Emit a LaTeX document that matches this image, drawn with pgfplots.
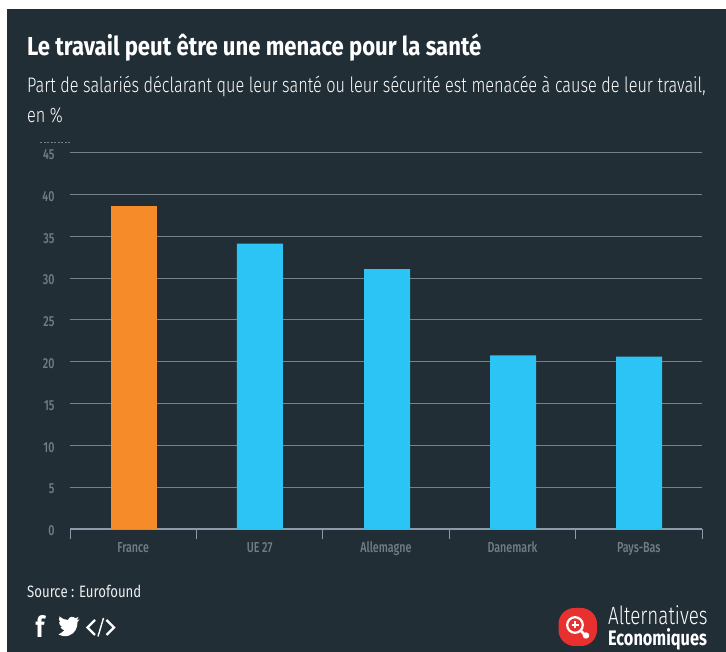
\documentclass[border=0pt]{standalone}
\usepackage{pgfplots}
\pgfplotsset{compat=1.18}
\usepackage{pgfplotstable}
\usepackage{fontspec}
\setmainfont[FakeStretch=0.8]{Fira Sans}
\newfontfamily\titlefont[FakeStretch=0.85]{Fira Sans Bold}
\newfontfamily\subfont[FakeStretch=0.775]{Fira Sans Light}
\newfontfamily\medfont[FakeStretch=0.74]{Fira Sans Medium}
\newfontfamily\logolight[FakeStretch=0.752]{Fira Sans Light}
\newfontfamily\logobold[FakeStretch=0.778]{Fira Sans Bold}
\definecolor{bg}{HTML}{222E36}
\definecolor{gridc}{HTML}{76828A}
\definecolor{axisc}{HTML}{8C9BAA}
\definecolor{labc}{HTML}{737D84}
\definecolor{orangebar}{HTML}{F68B2A}
\definecolor{bluebar}{HTML}{2BC4F5}
\definecolor{logored}{HTML}{E8312F}
\pgfplotstableread{
x v
0.506 38.55
}\franceT
\pgfplotstableread{
x v
1.503 34.1
2.508 31.05
3.505 20.75
4.503 20.6
}\othersT
\begin{document}
\begin{tikzpicture}[x=1pt,y=1pt]
\useasboundingbox (0,0) rectangle (726,652);
\fill[white] (0,0) rectangle (726,652);
\fill[bg] (7,0) rectangle (726,643);
\node[anchor=base west,inner sep=0pt,white,font=\titlefont\fontsize{26}{28}\selectfont] at (27,596) {Le travail peut être une menace pour la santé};
\node[anchor=base west,inner sep=0pt,white,font=\subfont\fontsize{21}{24}\selectfont] at (27,559) {Part de salariés déclarant que leur santé ou leur sécurité est menacée à cause de leur travail,};
\node[anchor=base west,inner sep=0pt,white,font=\subfont\fontsize{21}{24}\selectfont] at (27,529) {en \%};
\draw[gridc,dash pattern=on 2pt off 1.5pt,line width=0.5pt] (40,510) -- (70,510);
\begin{axis}[
  at={(70pt,123pt)}, anchor=origin,
  scale only axis, width=632pt, height=376.5pt,
  xmin=0, xmax=5, ymin=0, ymax=45,
  axis x line=bottom, axis y line=left,
  x axis line style={draw=axisc,line width=1.2pt,-},
  y axis line style={draw=none,-},
  ytick={0,5,...,45},
  ymajorgrids, grid style={gridc,line width=0.9pt},
  ytick style={draw=none},
  major tick length=0pt,
  xtick={0.5,1.5,2.5,3.5,4.5},
  xticklabels={France,UE 27,Allemagne,Danemark,Pays-Bas},
  xtick style={draw=none},
  extra x ticks={0,1,2,3,4,5},
  extra x tick labels={},
  extra x tick style={xtick style={draw=axisc,line width=1pt},major tick length=10pt,tick align=outside,xticklabels={},grid=none},
  /pgf/number format/assume math mode=true,
  ticklabel style={text=labc,font=\medfont\fontsize{14.5}{16}\selectfont},
  x tick label style={yshift=-9.5pt,text height=10pt,text depth=3pt},
  y tick label style={xshift=-12pt,yshift=-2pt},
  axis on top=false,
  clip=false,
]
\addplot[ybar,bar width=46pt,bar shift=0pt,fill=orangebar,draw=none] table[x=x,y=v] {\franceT};
\addplot[ybar,bar width=46pt,bar shift=0pt,fill=bluebar,draw=none] table[x=x,y=v] {\othersT};
\end{axis}
\node[anchor=base west,inner sep=0pt,white!92!bg,font=\fontsize{16.5}{19}\selectfont] at (27,54.5) {Source : Eurofound};
% social icons
\node[anchor=base,inner sep=0pt,white,font=\titlefont\fontsize{29}{30}\selectfont] at (40,14.5) {f};
\begin{scope}[yshift=-1pt]
\fill[white] (58.5,18.5) .. controls (62,17) and (66,16) .. (69,17.5) .. controls (75,19.5) and (77.5,25) .. (77.5,31)
 -- (79.5,33.5) -- (77,33) -- (78.5,36) -- (75.5,34.8) .. controls (73,37) and (69,36.5) .. (68,33)
 .. controls (65,33.2) and (62,34) .. (59.5,36.5) .. controls (58.5,34) and (59,32) .. (60.5,30.5)
 -- (59,30.8) .. controls (59,28.5) and (60.5,27) .. (62.5,26) -- (60.5,26) .. controls (61,24.2) and (63,23) .. (64.5,22.8)
 .. controls (63,21) and (60.5,19.8) .. (58.5,18.5) -- cycle;
\end{scope}
\draw[white,line width=2.2pt] (95,32) -- (87.5,24.5) -- (95,17);
\draw[white,line width=1.4pt] (98,15.5) -- (103.5,34);
\draw[white,line width=2.2pt] (106.5,32) -- (114,24.5) -- (106.5,17);
% logo
\fill[logored,rounded corners=16pt] (558.5,6) rectangle (597,44);
\draw[white,line width=2.2pt] (575,27) circle (7.8);
\draw[white,line width=1.1pt] (575,23.5) -- (575,30.5) (571.5,27) -- (578.5,27);
\draw[white,line width=2.5pt] (581,21) -- (585,17);
\fill[white] (586,16.5) circle (3.2);
\node[anchor=base west,inner sep=0pt,white,font=\logolight\fontsize{25}{26}\selectfont] at (608,27) {Alternatives};
\node[anchor=base west,inner sep=0pt,white,font=\logobold\fontsize{21}{24}\selectfont] at (608,6) {Economiques};
\end{tikzpicture}
\end{document}
